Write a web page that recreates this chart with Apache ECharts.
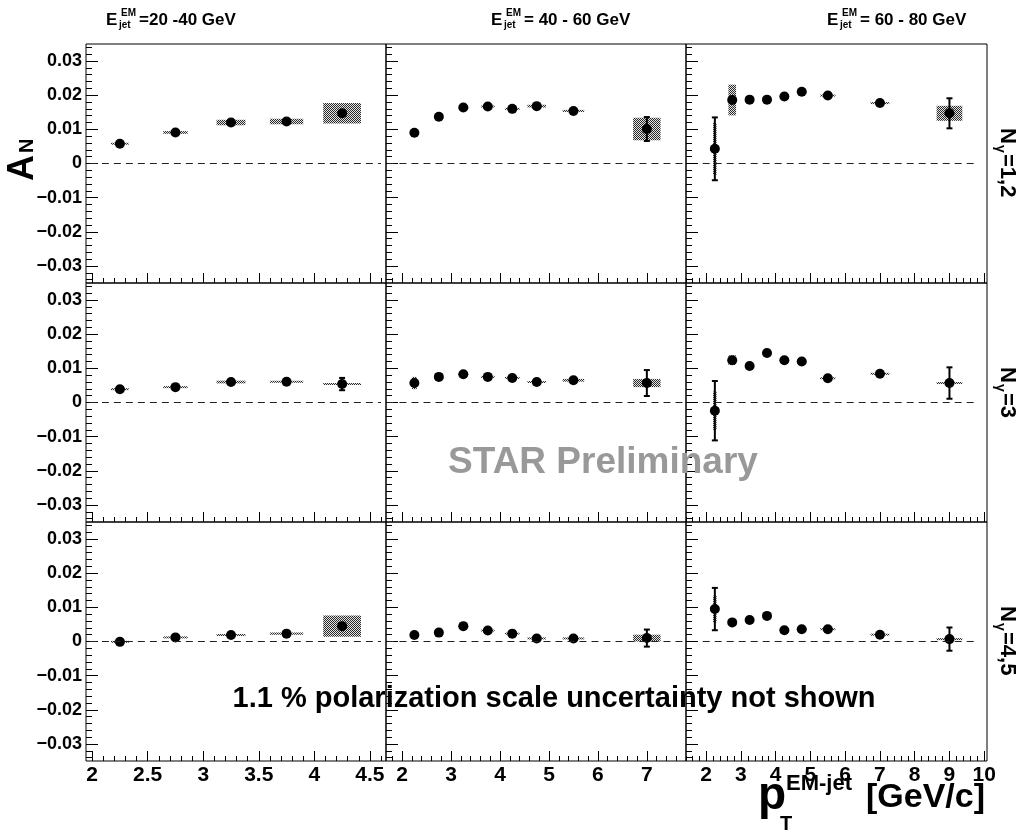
<!DOCTYPE html>
<html>
<head>
<meta charset="UTF-8">
<title>A_N vs pT EM-jet</title>
<script type="text/javascript" src="https://cdn.jsdelivr.net/npm/echarts@6/dist/echarts.min.js"></script>
</head>
<body style="margin:0;background:#fff">
<div id="main" style="width:1022px;height:832px"></div>
<script type="text/javascript">
// pT bin centres for the three E_jet^EM columns
var ptLow  = [2.25, 2.75, 3.25, 3.75, 4.25];
var ptMid  = [2.25, 2.75, 3.25, 3.75, 4.25, 4.75, 5.5, 7];
var ptHigh = [2.25, 2.75, 3.25, 3.75, 4.25, 4.75, 5.5, 7, 9];
// half widths of the systematic boxes
var boxLow  = [0.08, 0.11, 0.13, 0.15, 0.17];
var boxMid  = [0.05, 0.08, 0.1, 0.14, 0.15, 0.19, 0.22, 0.28];
var boxHigh = [0.05, 0.11, 0.1, 0.1, 0.12, 0.14, 0.22, 0.27, 0.37];

// A_N values, N_gamma = 1,2
var an12Low  = [0.0058, 0.0091, 0.0120, 0.0123, 0.0147];
var an12Mid  = [0.0090, 0.0137, 0.0164, 0.0167, 0.0160, 0.0168, 0.0154, 0.0101];
var an12High = [0.0043, 0.0186, 0.0187, 0.0187, 0.0196, 0.0210, 0.0199, 0.0177, 0.0147];
var st12Low  = [0.0005, 0.0005, 0.0006, 0.0008, 0.0012];
var st12Mid  = [0.0008, 0.0006, 0.0006, 0.0006, 0.0006, 0.0006, 0.0008, 0.0035];
var st12High = [0.0092, 0.0012, 0.0006, 0.0006, 0.0007, 0.0008, 0.0008, 0.0009, 0.0044];
var sy12Low  = [0.0002, 0.0004, 0.0008, 0.0008, 0.0030];
var sy12Mid  = [0.0006, 0.0002, 0.0002, 0.0002, 0.0002, 0.0004, 0.0003, 0.0033];
var sy12High = [0.0076, 0.0045, 0.0002, 0.0002, 0.0002, 0.0002, 0.0002, 0.0002, 0.0022];

// N_gamma = 3
var an3Low  = [0.0039, 0.0045, 0.0060, 0.0061, 0.0054];
var an3Mid  = [0.0057, 0.0075, 0.0083, 0.0075, 0.0072, 0.0060, 0.0065, 0.0057];
var an3High = [-0.0024, 0.0124, 0.0107, 0.0145, 0.0124, 0.0120, 0.0071, 0.0084, 0.0057];
var st3Low  = [0.0005, 0.0005, 0.0007, 0.0008, 0.0018];
var st3Mid  = [0.0010, 0.0006, 0.0006, 0.0006, 0.0006, 0.0006, 0.0008, 0.0038];
var st3High = [0.0087, 0.0012, 0.0006, 0.0007, 0.0007, 0.0008, 0.0008, 0.0009, 0.0046];
var sy3Low  = [0.0002, 0.0002, 0.0004, 0.0003, 0.0002];
var sy3Mid  = [0.0018, 0.0002, 0.0002, 0.0002, 0.0002, 0.0002, 0.0004, 0.0012];
var sy3High = [0.0056, 0.0014, 0.0002, 0.0002, 0.0002, 0.0002, 0.0002, 0.0002, 0.0002];

// N_gamma = 4,5
var an45Low  = [-0.0001, 0.0012, 0.0019, 0.0023, 0.0045];
var an45Mid  = [0.0019, 0.0026, 0.0045, 0.0032, 0.0023, 0.0009, 0.0009, 0.0010];
var an45High = [0.0095, 0.0056, 0.0063, 0.0075, 0.0033, 0.0036, 0.0036, 0.0020, 0.0007];
var st45Low  = [0.0004, 0.0005, 0.0006, 0.0007, 0.0014];
var st45Mid  = [0.0005, 0.0005, 0.0006, 0.0006, 0.0006, 0.0006, 0.0007, 0.0025];
var st45High = [0.0062, 0.0012, 0.0006, 0.0006, 0.0006, 0.0007, 0.0007, 0.0008, 0.0034];
var sy45Low  = [0.0002, 0.0002, 0.0002, 0.0003, 0.0031];
var sy45Mid  = [0.0002, 0.0002, 0.0002, 0.0002, 0.0002, 0.0002, 0.0002, 0.0010];
var sy45High = [0.0039, 0.0008, 0.0002, 0.0002, 0.0002, 0.0002, 0.0002, 0.0002, 0.0002];

// axes
var xRange = [[1.945, 4.645], [1.67, 7.8], [1.42, 10.08]];
var xMajor = [[2, 2.5, 3, 3.5, 4, 4.5], [2, 3, 4, 5, 6, 7], [2, 3, 4, 5, 6, 7, 8, 9, 10]];
var xMinorStep = [0.1, 0.2, 0.2];
var yRange = [-0.035, 0.035];
var yMajor = [-0.03, -0.02, -0.01, 0, 0.01, 0.02, 0.03];
var yMinorStep = 0.002;
var zeroLine = [[1.98, 4.6], [1.7, 7.75], [1.9, 9.77]];

var colTitles = ['=20 -40 GeV', '= 40 - 60 GeV', '= 60 - 80 GeV'];
var rowTitles = ['=1,2', '=3', '=4,5'];

var pts = [ptLow, ptMid, ptHigh];
var boxes = [boxLow, boxMid, boxHigh];
var vals = [[an12Low, an12Mid, an12High], [an3Low, an3Mid, an3High], [an45Low, an45Mid, an45High]];
var stats = [[st12Low, st12Mid, st12High], [st3Low, st3Mid, st3High], [st45Low, st45Mid, st45High]];
var syss = [[sy12Low, sy12Mid, sy12High], [sy3Low, sy3Mid, sy3High], [sy45Low, sy45Mid, sy45High]];

var colLeft = [86, 386, 686], colWidth = [300, 300, 301];
var rowTop = [44, 283, 522], rowHeight = 239;
var FONT = '"Liberation Sans", Arial, Helvetica, sans-serif';

// halftone fill like ROOT's 3001 style
var pat = document.createElement('canvas');
pat.width = 2; pat.height = 2;
var pctx = pat.getContext('2d');
pctx.fillStyle = '#e4e4e4'; pctx.fillRect(0, 0, 2, 2);
pctx.fillStyle = '#2a2a2a'; pctx.fillRect(0, 0, 1, 1); pctx.fillRect(1, 1, 1, 1);
var hatch = {image: pat, repeat: 'repeat'};

function steps(lo, hi, step, skip) {
    var out = [];
    for (var v = Math.ceil(lo / step - 1e-9) * step; v <= hi + 1e-9; v += step) {
        var r = Math.round(v * 1e6) / 1e6;
        if (skip.indexOf(r) < 0 && r >= lo && r <= hi) out.push(r);
    }
    return out;
}

function renderPoint(params, api) {
    var x = api.value(0), y = api.value(1), st = api.value(2), sy = api.value(3), hw = api.value(4);
    var a = api.coord([x - hw, y + sy]), b = api.coord([x + hw, y - sy]);
    var h = Math.max(b[1] - a[1], 2);
    var cy = (a[1] + b[1]) / 2;
    var kids = [{type: 'rect', shape: {x: a[0], y: cy - h / 2, width: b[0] - a[0], height: h}, style: {fill: hatch}}];
    var t = api.coord([x, y + st]), d = api.coord([x, y - st]);
    if (d[1] - t[1] > 10) {
        var ls = {stroke: '#000', lineWidth: 2};
        kids.push({type: 'line', shape: {x1: t[0], y1: t[1], x2: d[0], y2: d[1]}, style: ls});
        kids.push({type: 'line', shape: {x1: t[0] - 3, y1: t[1], x2: t[0] + 3, y2: t[1]}, style: ls});
        kids.push({type: 'line', shape: {x1: d[0] - 3, y1: d[1], x2: d[0] + 3, y2: d[1]}, style: ls});
    }
    return {type: 'group', children: kids};
}

function yFmt(v) {
    if (Math.abs(v) < 1e-9) return '0';
    return (v < 0 ? '\u2212' : '') + Math.abs(v).toFixed(2);
}

var grids = [], xAxes = [], yAxes = [], series = [];
for (var r = 0; r < 3; r++) {
    for (var c = 0; c < 3; c++) {
        var g = grids.length;
        grids.push({left: colLeft[c], top: rowTop[r], width: colWidth[c], height: rowHeight,
            show: true, borderColor: '#000', borderWidth: 1, backgroundColor: 'transparent'});
        var xmin = xRange[c][0], xmax = xRange[c][1];
        var xMinor = steps(xmin, xmax, xMinorStep[c], xMajor[c]);
        var yMinor = steps(yRange[0], yRange[1], yMinorStep, yMajor);
        [true, false].forEach(function (major) {
            xAxes.push({
                type: 'value', gridIndex: g, min: xmin, max: xmax, position: 'bottom',
                axisLine: {show: false, onZero: false}, splitLine: {show: false},
                axisTick: {show: true, inside: true, length: major ? 10 : 5,
                    customValues: major ? xMajor[c] : xMinor, lineStyle: {color: '#000', width: 1}},
                axisLabel: {show: major && r === 2, customValues: xMajor[c], margin: 4,
                    fontSize: 21, fontWeight: 'bold', fontFamily: FONT, color: '#000',
                    formatter: function (v) { return String(v); }}
            });
            yAxes.push({
                type: 'value', gridIndex: g, min: yRange[0], max: yRange[1], position: 'left',
                axisLine: {show: false, onZero: false}, splitLine: {show: false},
                axisTick: {show: true, inside: true, length: major ? 12 : 6,
                    customValues: major ? yMajor : yMinor, lineStyle: {color: '#000', width: 1}},
                axisLabel: {show: major && c === 0, customValues: yMajor, margin: 4,
                    fontSize: 18, fontWeight: 'bold', fontFamily: FONT, color: '#000', formatter: yFmt}
            });
        });
        var xi = 2 * g;
        var px = pts[c], pv = vals[r][c];
        var full = px.map(function (x, i) { return [x, pv[i], stats[r][c][i], syss[r][c][i], boxes[c][i]]; });
        series.push({
            type: 'custom', xAxisIndex: xi, yAxisIndex: xi, renderItem: renderPoint,
            data: full, z: 2, silent: true
        });
        series.push({
            type: 'scatter', xAxisIndex: xi, yAxisIndex: xi, symbol: 'circle', symbolSize: 10,
            itemStyle: {color: '#000', opacity: 1}, z: 3, silent: true,
            data: px.map(function (x, i) { return [x, pv[i]]; }),
            markLine: {silent: true, symbol: ['none', 'none'], label: {show: false},
                lineStyle: {color: '#222', type: [7, 5], width: 1},
                data: [[{coord: [zeroLine[c][0], 0]}, {coord: [zeroLine[c][1], 0]}]]}
        });
    }
}

function txt(x, y, s, size, opt) {
    opt = opt || {};
    return {type: 'text', x: x, y: y, rotation: opt.rot || 0, z: 10, silent: true,
        style: {text: s, fontSize: size, fontWeight: 'bold', fontFamily: FONT,
            fill: opt.fill || '#000', align: opt.align || 'left', verticalAlign: 'middle'}};
}

var graphics = [];
// column headers E_jet^EM
var eX = [106, 491, 827];
for (var c = 0; c < 3; c++) {
    graphics.push(txt(eX[c], 20, 'E', 17));
    graphics.push(txt(eX[c] + 15, 13, 'EM', 10));
    graphics.push(txt(eX[c] + 13, 25, 'jet', 10));
    graphics.push(txt(eX[c] + 33, 20, colTitles[c], 17));
}
// row labels N_gamma
for (var r = 0; r < 3; r++) {
    graphics.push(txt(1007, rowTop[r] + 84, 'N', 22, {rot: -Math.PI / 2}));
    graphics.push(txt(1000, rowTop[r] + 101, '\u03b3', 14, {rot: -Math.PI / 2}));
    graphics.push(txt(1007, rowTop[r] + 110, rowTitles[r], 22, {rot: -Math.PI / 2}));
}
// y title A_N
graphics.push(txt(23, 181, 'A', 36, {rot: Math.PI / 2}));
graphics.push(txt(27, 153, 'N', 20, {rot: Math.PI / 2}));
// x title
graphics.push(txt(758, 796, 'p', 46));
graphics.push(txt(780, 824, 'T', 20));
graphics.push(txt(786, 784, 'EM-jet', 22));
graphics.push(txt(866, 798, '[GeV/c]', 34));
// notes
graphics.push(txt(603, 463, 'STAR Preliminary', 37, {align: 'center', fill: '#999'}));
graphics.push(txt(554, 699, '1.1 % polarization scale uncertainty not shown', 29, {align: 'center'}));

var myChart = echarts.init(document.getElementById('main'));
myChart.setOption({
    animation: false,
    backgroundColor: '#fff',
    grid: grids,
    xAxis: xAxes,
    yAxis: yAxes,
    series: series,
    graphic: graphics
});
</script>
</body>
</html>
